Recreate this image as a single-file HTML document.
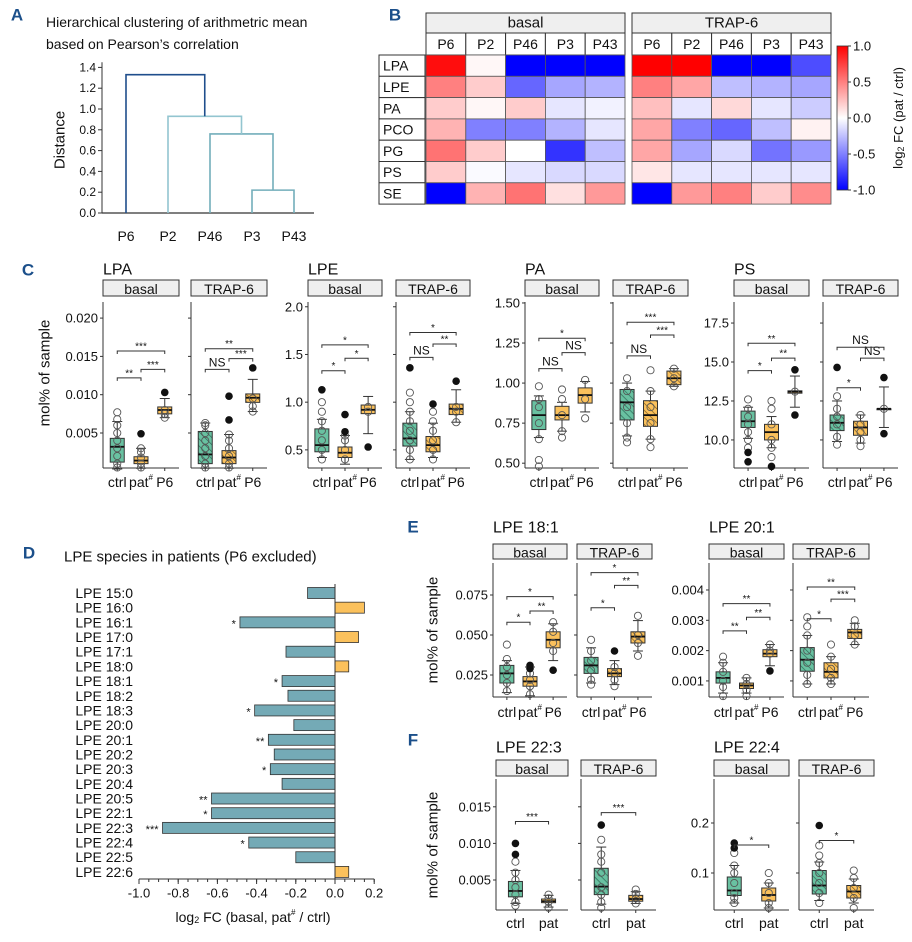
<!DOCTYPE html>
<html><head><meta charset="utf-8">
<style>
html,body{margin:0;padding:0;background:#fff;}
svg{display:block;font-family:"Liberation Sans",Arial,sans-serif;}
text{fill:#111;}
</style></head>
<body>
<svg id="fig" width="912" height="942" viewBox="0 0 912 942" xmlns="http://www.w3.org/2000/svg">
<defs>
<pattern id="hatch-ctrl" patternUnits="userSpaceOnUse" width="5" height="5" patternTransform="rotate(-45)">
<rect width="5" height="5" fill="#69c1a1"/><line x1="0" y1="0" x2="0" y2="5" stroke="#2d6b58" stroke-width="1.4"/></pattern>
<pattern id="hatch-pat" patternUnits="userSpaceOnUse" width="5" height="5" patternTransform="rotate(-45)">
<rect width="5" height="5" fill="#fbc15c"/><line x1="0" y1="0" x2="0" y2="5" stroke="#7a5a1e" stroke-width="1.4"/></pattern>
<linearGradient id="cbar-grad" x1="0" y1="0" x2="0" y2="1">
<stop offset="0" stop-color="#ff0000"/><stop offset="0.5" stop-color="#ffffff"/><stop offset="1" stop-color="#0000ff"/></linearGradient>
</defs>
</svg>
<script>
// ---------- Panel A data ----------
const dendroLeaves=['P6','P2','P46','P3','P43'];
const dendroHeights=[0.22,0.76,0.93,1.33];
const dendroTicks=[0,0.2,0.4,0.6,0.8,1.0,1.2,1.4];
const dendroTickLabels=['0.0','0.2','0.4','0.6','0.8','1.0','1.2','1.4'];
// ---------- Panel B data ----------
const hmRows=['LPA','LPE','PA','PCO','PG','PS','SE'];
const hmCols=['P6','P2','P46','P3','P43'];
const hmBasal=[[0.95,0.03,-1,-1,-1],[0.5,0.2,-0.6,-0.35,-0.3],[0.2,0.03,0.2,-0.1,-0.05],[0.3,-0.5,-0.5,-0.3,-0.1],[0.55,0.2,0.0,-0.8,-0.25],[0.2,-0.02,-0.1,-0.15,-0.15],[-1,0.3,0.55,0.12,0.4]];
const hmTrap=[[1,1,-1,-1,-0.7],[0.5,0.35,-0.25,-0.3,-0.35],[0.25,-0.1,0.15,-0.1,-0.2],[0.35,-0.5,-0.6,-0.25,0.05],[0.35,-0.35,-0.15,-0.55,-0.4],[0.1,-0.1,-0.1,-0.1,-0.1],[-1,0.4,0.5,0.2,0.45]];
const cbarTicks=[1,0.5,0,-0.5,-1];
const cbarTickLabels=['1.0','0.5','0.0','-0.5','-1.0'];
// ---------- Panel D data ----------
const lpeSpecies=['LPE 15:0','LPE 16:0','LPE 16:1','LPE 17:0','LPE 17:1','LPE 18:0','LPE 18:1','LPE 18:2','LPE 18:3','LPE 20:0','LPE 20:1','LPE 20:2','LPE 20:3','LPE 20:4','LPE 20:5','LPE 22:1','LPE 22:3','LPE 22:4','LPE 22:5','LPE 22:6'];
const lpeFC=[-0.14,0.15,-0.485,0.12,-0.25,0.07,-0.27,-0.24,-0.41,-0.21,-0.34,-0.31,-0.33,-0.27,-0.63,-0.63,-0.88,-0.44,-0.2,0.07];
const lpeSig=['','','*','','','','*','','*','','**','','*','','**','*','***','*','',''];
const dTicks=[-1.0,-0.8,-0.6,-0.4,-0.2,0.0,0.2];
const dTickLabels=['-1.0','-0.8','-0.6','-0.4','-0.2','0.0','0.2'];
// ---------- Box plot data: [lo,q1,median,q3,hi] ----------
const lpaTicks=[0.005,0.010,0.015,0.020];
const lpaTickLabels=['0.005','0.010','0.015','0.020'];
const lpaBasal=[[0.0003,0.0012,0.0032,0.0043,0.0065],[0.0004,0.0010,0.0014,0.0019,0.0030],[0.0070,0.0075,0.0080,0.0084,0.0095]];
const lpaBasalPts=[[0.0005,0.001,0.002,0.003,0.004,0.005,0.006,0.0068,0.0077],[0.0005,0.001,0.0018,0.0025,0.003],[0.0070,0.0075,0.0080]];
const lpaBasalOut=[[],[0.0049],[0.0103]];
const lpaBasalSig=[[0,1,0.0122,'**'],[1,2,0.0133,'***'],[0,2,0.0157,'***']];
const lpaTrap=[[0.0004,0.0010,0.0022,0.0052,0.0063],[0.0004,0.0010,0.0018,0.0027,0.0048],[0.0078,0.0090,0.0096,0.0101,0.0120]];
const lpaTrapPts=[[0.0005,0.001,0.002,0.003,0.004,0.005,0.006,0.0063],[0.0005,0.001,0.002,0.003,0.004,0.0048],[0.0078,0.0085,0.0095]];
const lpaTrapOut=[[],[0.0067,0.0098],[0.0135]];
const lpaTrapSig=[[0,1,0.0133,'NS'],[1,2,0.0147,'***'],[0,2,0.0160,'**']];

const lpeTicks=[0.5,1.0,1.5,2.0];
const lpeTickLabels=['0.5','1.0','1.5','2.0'];
const lpeBasal=[[0.42,0.48,0.55,0.72,0.82],[0.35,0.42,0.47,0.53,0.65],[0.67,0.88,0.92,0.97,1.06]];
const lpeBasalPts=[[0.3,0.4,0.5,0.6,0.7,0.8,0.9,1.0],[0.3,0.4,0.5,0.6,0.65],[0.9,0.95]];
const lpeBasalOut=[[1.13],[0.69,0.87],[0.53]];
const lpeBasalSig=[[0,1,1.33,'*'],[1,2,1.46,'*'],[0,2,1.60,'*']];
const lpeTrap=[[0.40,0.54,0.62,0.78,0.90],[0.42,0.48,0.55,0.64,0.78],[0.79,0.87,0.93,0.98,1.13]];
const lpeTrapPts=[[0.4,0.5,0.6,0.7,0.8,0.9,1.0,1.1],[0.4,0.5,0.6,0.7,0.8,0.9],[0.79,0.9,0.95]];
const lpeTrapOut=[[1.36],[0.98],[1.22]];
const lpeTrapSig=[[0,1,1.47,'NS'],[1,2,1.61,'**'],[0,2,1.73,'*']];

const paTicks=[0.50,0.75,1.00,1.25,1.50];
const paTickLabels=['0.50','0.75','1.00','1.25','1.50'];
const paBasal=[[0.66,0.71,0.80,0.89,0.92],[0.70,0.77,0.80,0.855,0.88],[0.82,0.875,0.925,0.97,1.01]];
const paBasalPts=[[0.48,0.52,0.65,0.75,0.85,0.9,0.98],[0.66,0.7,0.8,0.9,0.96],[0.78,0.9,1.02]];
const paBasalOut=[[],[],[]];
const paBasalSig=[[0,1,1.09,'NS'],[1,2,1.19,'NS'],[0,2,1.28,'*']];
const paTrap=[[0.67,0.77,0.88,0.96,1.00],[0.65,0.73,0.80,0.89,0.95],[0.98,0.99,1.03,1.075,1.09]];
const paTrapPts=[[0.63,0.66,0.75,0.85,0.95,1.03],[0.6,0.65,0.75,0.85,0.95,1.08],[0.98,1.03,1.09]];
const paTrapOut=[[],[],[]];
const paTrapSig=[[0,1,1.17,'NS'],[1,2,1.30,'***'],[0,2,1.38,'***']];

const psTicks=[10.0,12.5,15.0,17.5];
const psTickLabels=['10.0','12.5','15.0','17.5'];
const psBasal=[[10.1,10.8,11.2,11.85,12.1],[9.5,10.0,10.5,11.0,11.5],[12.1,13.0,13.1,13.15,14.1]];
const psBasalPts=[[9.5,10,10.5,11,11.5,12,12.6],[8.9,9.5,10,11,12,12.5],[13.1]];
const psBasalOut=[[8.6,9.2],[8.3],[14.5,11.6]];
const psBasalSig=[[0,1,14.45,'*'],[1,2,15.25,'**'],[0,2,16.2,'**']];
const psTrap=[[9.9,10.6,11.1,11.6,12.5],[9.8,10.3,10.8,11.2,11.6],[10.8,12.0,12.0,12.0,13.4]];
const psTrapPts=[[9.7,10.2,11,11.5,12,12.8],[9.6,10,10.5,11,11.6],[12]];
const psTrapOut=[[14.65],[],[14.0,10.4]];
const psTrapSig=[[0,1,13.35,'*'],[1,2,15.25,'NS'],[0,2,15.95,'NS']];

const e1Ticks=[0.025,0.050,0.075];
const e1TickLabels=['0.025','0.050','0.075'];
const e1Basal=[[0.014,0.020,0.026,0.031,0.034],[0.012,0.018,0.021,0.024,0.030],[0.034,0.042,0.047,0.052,0.057]];
const e1BasalPts=[[0.015,0.02,0.025,0.03,0.035,0.044],[0.013,0.018,0.022,0.026],[0.04,0.045,0.052,0.058]];
const e1BasalOut=[[],[0.029,0.031],[0.028]];
const e1BasalSig=[[0,1,0.058,'*'],[1,2,0.065,'**'],[0,2,0.074,'*']];
const e1Trap=[[0.020,0.026,0.031,0.036,0.042],[0.019,0.024,0.026,0.029,0.034],[0.040,0.045,0.049,0.052,0.059]];
const e1TrapPts=[[0.019,0.022,0.028,0.034,0.04,0.047],[0.018,0.022,0.026,0.03],[0.037,0.045,0.05,0.062]];
const e1TrapOut=[[],[0.040],[]];
const e1TrapSig=[[0,1,0.067,'*'],[1,2,0.081,'**'],[0,2,0.089,'*']];

const e2Ticks=[0.001,0.002,0.003,0.004];
const e2TickLabels=['0.001','0.002','0.003','0.004'];
const e2Basal=[[0.0006,0.00093,0.0011,0.0013,0.0016],[0.0006,0.00075,0.00085,0.00093,0.0011],[0.0015,0.0018,0.0019,0.00203,0.0022]];
const e2BasalPts=[[0.0005,0.0008,0.001,0.0013,0.0016,0.0018],[0.0005,0.0007,0.0009,0.0011],[0.0019,0.002,0.0022]];
const e2BasalOut=[[],[],[0.00133]];
const e2BasalSig=[[0,1,0.00265,'**'],[1,2,0.0031,'**'],[0,2,0.00355,'**']];
const e2Trap=[[0.0009,0.00132,0.0017,0.0021,0.0025],[0.0009,0.0011,0.0013,0.0016,0.0018],[0.0022,0.0024,0.0026,0.0027,0.0029]];
const e2TrapPts=[[0.0009,0.0012,0.0016,0.002,0.0025,0.0028,0.0031],[0.0009,0.0011,0.0014,0.0018,0.0022],[0.0022,0.0025,0.0028,0.003]];
const e2TrapOut=[[],[],[]];
const e2TrapSig=[[0,1,0.00305,'*'],[1,2,0.0037,'***'],[0,2,0.0041,'**']];

const f1Ticks=[0.005,0.010,0.015];
const f1TickLabels=['0.005','0.010','0.015'];
const f1Basal=[[0.0018,0.0027,0.0035,0.0048,0.0063],[0.0013,0.0019,0.0021,0.0024,0.0029]];
const f1BasalPts=[[0.0015,0.002,0.003,0.004,0.005,0.006,0.0075],[0.0012,0.002,0.0025,0.003]];
const f1BasalOut=[[0.0085,0.0100],[]];
const f1BasalSig=[[0,1,0.013,'***']];
const f1Trap=[[0.0017,0.0030,0.0041,0.0066,0.0095],[0.0018,0.0021,0.0024,0.0029,0.0034]];
const f1TrapPts=[[0.0012,0.002,0.003,0.004,0.006,0.0075,0.0085,0.0105],[0.0018,0.0025,0.0031,0.0037]];
const f1TrapOut=[[0.0125],[]];
const f1TrapSig=[[0,1,0.0142,'***']];

const f2Ticks=[0.1,0.2];
const f2TickLabels=['0.1','0.2'];
const f2Basal=[[0.04,0.055,0.065,0.092,0.115],[0.03,0.044,0.056,0.070,0.080]];
const f2BasalPts=[[0.04,0.05,0.06,0.08,0.1,0.115,0.14],[0.03,0.04,0.06,0.08,0.1]];
const f2BasalOut=[[0.15,0.16],[]];
const f2BasalSig=[[0,1,0.156,'*']];
const f2Trap=[[0.045,0.058,0.075,0.105,0.122],[0.04,0.05,0.063,0.075,0.088]];
const f2TrapPts=[[0.04,0.06,0.08,0.1,0.12,0.135,0.155],[0.03,0.05,0.07,0.09,0.105]];
const f2TrapOut=[[0.195],[]];
const f2TrapSig=[[0,1,0.165,'*']];

const groups3=['ctrl','pat#','P6'];
const groups2=['ctrl','pat'];

// ---------- helpers ----------
const NS='http://www.w3.org/2000/svg';
const svg=document.getElementById('fig');
function mk(tag,attrs,parent){const e=document.createElementNS(NS,tag);for(const k in attrs)e.setAttribute(k,attrs[k]);(parent||svg).appendChild(e);return e;}
function txt(x,y,s,size,anchor,parent){const t=mk('text',{x:x,y:y,'font-size':size,'text-anchor':anchor||'start','dominant-baseline':'central'},parent);t.textContent=s;return t;}
function line(x1,y1,x2,y2,stroke,w,parent){return mk('line',{x1:x1,y1:y1,x2:x2,y2:y2,stroke:stroke||'#333','stroke-width':w||1},parent);}

// ---------- panel letters ----------
[['A',17,15],['B',395,15],['C',28,270],['D',29,553],['E',413,527],['F',413,740]].forEach(function(p){
  const t=txt(p[1],p[2],p[0],17,'middle');
  t.setAttribute('font-weight','bold');t.setAttribute('style','fill:#1b4f8a');
  
  
});

// ---------- Panel A ----------
(function(){
  const g=mk('g',{});
  
  
  let t=txt(46,22,'Hierarchical clustering of arithmetric mean',14,'start',g);
  
  
  t=txt(46,44,'based on Pearson’s correlation',14,'start',g);
  
  
  const y0=213,k=104,ax=102;
  const sy=v=>y0-v*k;
  const lx=i=>126+i*42;
  line(ax,sy(1.45),ax,y0,'#333',1,g);
  line(ax,y0,314,y0,'#333',1.2,g);
  dendroTicks.forEach(function(v,i){
    line(ax-4,sy(v),ax,sy(v),'#333',1,g);
    const tl=txt(ax-6,sy(v),dendroTickLabels[i],12,'end',g);
    
    
  });
  const yt=txt(0,0,'Distance',15,'middle',g);
  yt.setAttribute('transform','translate(60,140) rotate(-90)');
  
  
  dendroLeaves.forEach(function(s,i){
    const tl=txt(lx(i),236,s,14,'middle',g);
    
    
  });
  // merges: (3,4)->h0, (2,c0)->h1, (1,c1)->h2, (0,c2)->h3
  const cols=['#73aebb','#73aebb','#93c5d0','#1f4e8c'];
  let rx=(lx(3)+lx(4))/2,ry=sy(dendroHeights[0]);
  function link(xa,ya,xb,yb,h,c){
    const p=mk('path',{d:'M'+xa+','+ya+'V'+sy(h)+'H'+xb+'V'+yb,fill:'none',stroke:c,'stroke-width':1.6},g);
    
    
  }
  link(lx(3),y0,lx(4),y0,dendroHeights[0],cols[0]);
  for(let m=1;m<4;m++){
    const leaf=3-m;
    link(lx(leaf),y0,rx,ry,dendroHeights[m],cols[m]);
    rx=(lx(leaf)+rx)/2;ry=sy(dendroHeights[m]);
  }
})();

// ---------- Panel B ----------
(function(){
  const g=mk('g',{});
  
  
  const top=55,rh=21.3,cw=39.8;
  const color=function(v){v=Math.max(-1,Math.min(1,v));
    if(v>=0){const c=Math.round(255*(1-v));return 'rgb(255,'+c+','+c+')';}
    const c=Math.round(255*(1+v));return 'rgb('+c+','+c+',255)';};
  hmRows.forEach(function(r,i){
    mk('rect',{x:379,y:top+i*rh,width:46,height:rh,fill:'#fff',stroke:'#333','stroke-width':1},g);
    const t=txt(383,top+i*rh+rh/2,r,14,'start',g);
    
    
  });
  [[426,hmBasal,'basal'],[632,hmTrap,'TRAP-6']].forEach(function(f){
    const x0=f[0];
    const s=mk('rect',{x:x0,y:13,width:cw*5,height:20,fill:'#efefef',stroke:'#333'},g);
    
    
    txt(x0+cw*2.5,23,f[2],15,'middle',g);
    hmCols.forEach(function(c,j){
      mk('rect',{x:x0+j*cw,y:33,width:cw,height:22,fill:'#fff',stroke:'#333'},g);
      const t=txt(x0+j*cw+cw/2,44,c,14,'middle',g);
      
      
    });
    f[1].forEach(function(row,i){row.forEach(function(v,j){
      const r=mk('rect',{x:x0+j*cw,y:top+i*rh,width:cw,height:rh,fill:color(v),stroke:'#555','stroke-width':0.8},g);
      
      
    });});
  });
  const cb=mk('rect',{x:837,y:46,width:11,height:144,fill:'url(#cbar-grad)',stroke:'#333','stroke-width':0.8},g);
  
  
  cbarTicks.forEach(function(v,i){
    const y=118-v*72;
    line(848,y,851,y,'#333',1,g);
    const t=txt(853,y,cbarTickLabels[i],13,'start',g);
    
    
  });
  const ct=mk('text',{x:0,y:0,'font-size':13,'text-anchor':'middle','dominant-baseline':'central',transform:'translate(898,118) rotate(-90)'},g);
  ct.innerHTML='log<tspan font-size="9" dy="3">2</tspan><tspan dy="-3"> FC (pat / ctrl)</tspan>';
  
  
})();

// ---------- Panel D ----------
(function(){
  const g=mk('g',{});
  
  
  let t=txt(64,557,'LPE species in patients (P6 excluded)',15,'start',g);
  
  
  const zx=335,k=196,y0=593,rs=14.68,bh=11;
  const sx=v=>zx+v*k;
  lpeSpecies.forEach(function(s,i){
    const y=y0+i*rs,v=lpeFC[i];
    const l=txt(133,y,s,14,'end',g);
    
    
    const b=mk('rect',{x:Math.min(sx(v),zx),y:y-bh/2,width:Math.abs(sx(v)-zx),height:bh,fill:v<0?'#74aab6':'#fbc15c',stroke:'#333','stroke-width':0.8},g);
    
    
    if(lpeSig[i]){
      const st=txt(Math.min(sx(v),zx)-4,y+2,lpeSig[i],11,'end',g);
      
      
    }
  });
  line(zx,y0-9,zx,879,'#333',1,g);
  line(sx(-1),879,sx(0.2),879,'#333',1,g);
  for(let v=-1;v<=0.2001;v+=0.05){line(sx(v),879,sx(v),882,'#333',1,g);}
  dTicks.forEach(function(v,i){
    line(sx(v),879,sx(v),884,'#333',1,g);
    const tl=txt(sx(v),893,dTickLabels[i],13,'middle',g);
    
    
  });
  const xt=mk('text',{x:253,y:917,'font-size':14,'text-anchor':'middle','dominant-baseline':'central'},g);
  xt.innerHTML='log<tspan font-size="9" dy="3">2</tspan><tspan dy="-3"> FC (basal, pat</tspan><tspan font-size="8" dy="-5">#</tspan><tspan dy="5"> / ctrl)</tspan>';
  
  
})();

// ---------- Box plot panels ----------
const boxPanels=[
 {name:'lpa',title:'LPA',tx:103,ty:270,top:302,bot:468,sTop:280,sBot:296,labY:482,ymin:0.00043,ymax:0.0221,ticks:lpaTicks,tl:lpaTickLabels,groups:groups3,
  facets:[[103,179,'basal',lpaBasal,lpaBasalPts,lpaBasalOut,lpaBasalSig],[191,267,'TRAP-6',lpaTrap,lpaTrapPts,lpaTrapOut,lpaTrapSig]]},
 {name:'lpe',title:'LPE',tx:308,ty:270,top:302,bot:468,sTop:280,sBot:296,labY:482,ymin:0.31,ymax:2.05,ticks:lpeTicks,tl:lpeTickLabels,groups:groups3,
  facets:[[308,382,'basal',lpeBasal,lpeBasalPts,lpeBasalOut,lpeBasalSig],[396,470,'TRAP-6',lpeTrap,lpeTrapPts,lpeTrapOut,lpeTrapSig]]},
 {name:'pa',title:'PA',tx:525,ty:270,top:302,bot:468,sTop:280,sBot:296,labY:482,ymin:0.47,ymax:1.506,ticks:paTicks,tl:paTickLabels,groups:groups3,
  facets:[[525,599,'basal',paBasal,paBasalPts,paBasalOut,paBasalSig],[613,688,'TRAP-6',paTrap,paTrapPts,paTrapOut,paTrapSig]]},
 {name:'ps',title:'PS',tx:734,ty:270,top:302,bot:468,sTop:280,sBot:296,labY:482,ymin:8.2,ymax:18.85,ticks:psTicks,tl:psTickLabels,groups:groups3,
  facets:[[734,809,'basal',psBasal,psBasalPts,psBasalOut,psBasalSig],[823,898,'TRAP-6',psTrap,psTrapPts,psTrapOut,psTrapSig]]},
 {name:'lpe-18-1',title:'LPE 18:1',tx:493,ty:528,top:563,bot:697,sTop:544,sBot:559,labY:712,ymin:0.01125,ymax:0.095,ticks:e1Ticks,tl:e1TickLabels,groups:groups3,
  facets:[[493,567,'basal',e1Basal,e1BasalPts,e1BasalOut,e1BasalSig],[577,652,'TRAP-6',e1Trap,e1TrapPts,e1TrapOut,e1TrapSig]]},
 {name:'lpe-20-1',title:'LPE 20:1',tx:709,ty:528,top:563,bot:697,sTop:544,sBot:559,labY:712,ymin:0.00047,ymax:0.00489,ticks:e2Ticks,tl:e2TickLabels,groups:groups3,
  facets:[[709,784,'basal',e2Basal,e2BasalPts,e2BasalOut,e2BasalSig],[793,869,'TRAP-6',e2Trap,e2TrapPts,e2TrapOut,e2TrapSig]]},
 {name:'lpe-22-3',title:'LPE 22:3',tx:496,ty:748,top:779,bot:910,sTop:760,sBot:776,labY:923,ymin:0.0009,ymax:0.0188,ticks:f1Ticks,tl:f1TickLabels,groups:groups2,
  facets:[[496,568,'basal',f1Basal,f1BasalPts,f1BasalOut,f1BasalSig],[581,656,'TRAP-6',f1Trap,f1TrapPts,f1TrapOut,f1TrapSig]]},
 {name:'lpe-22-4',title:'LPE 22:4',tx:714,ty:748,top:779,bot:910,sTop:760,sBot:776,labY:923,ymin:0.026,ymax:0.288,ticks:f2Ticks,tl:f2TickLabels,groups:groups2,
  facets:[[714,789,'basal',f2Basal,f2BasalPts,f2BasalOut,f2BasalSig],[799,874,'TRAP-6',f2Trap,f2TrapPts,f2TrapOut,f2TrapSig]]}
];

boxPanels.forEach(function(P){
  const g=mk('g',{});
  
  
  const sy=v=>P.bot-(v-P.ymin)/(P.ymax-P.ymin)*(P.bot-P.top);
  const tt=txt(P.tx,P.ty,P.title,16,'start',g);
  
  
  const fr=P.groups.length===3?[0.1875,0.5,0.8125]:[0.27,0.73];
  P.facets.forEach(function(F,fi){
    const x0=F[0],x1=F[1],w=x1-x0;
    const s=mk('rect',{x:x0,y:P.sTop,width:w,height:P.sBot-P.sTop,fill:'#efefef',stroke:'#333','stroke-width':1},g);
    
    
    txt(x0+w/2,(P.sTop+P.sBot)/2+1,F[2],14,'middle',g);
    line(x0,P.top,x0,P.bot,'#333',1,g);
    line(x0,P.bot,x1,P.bot,'#333',1,g);
    P.ticks.forEach(function(v,i){
      line(x0-3,sy(v),x0,sy(v),'#333',1,g);
      if(fi===0){
        const tl=txt(x0-5,sy(v),P.tl[i],13,'end',g);
        
        
      }
    });
    const gx=fr.map(f=>x0+w*f);
    P.groups.forEach(function(gn,gi){
      line(gx[gi],P.bot,gx[gi],P.bot+3,'#333',1,g);
      const lab=mk('text',{x:gx[gi],y:P.labY,'font-size':14,'text-anchor':'middle','dominant-baseline':'central'},g);
      if(gn==='pat#'){lab.innerHTML='pat<tspan font-size="8" dy="-5">#</tspan>';}else{lab.textContent=gn;}
      
      
      const st=F[3][gi];
      const cx=gx[gi],bw=14;
      const fill=fi===0?(gi===0?'#69c1a1':'#fbc15c'):(gi===0?'url(#hatch-ctrl)':'url(#hatch-pat)');
      line(cx,sy(st[0]),cx,sy(st[4]),'#333',1,g);
      line(cx-5,sy(st[0]),cx+5,sy(st[0]),'#333',1,g);
      line(cx-5,sy(st[4]),cx+5,sy(st[4]),'#333',1,g);
      const b=mk('rect',{x:cx-bw/2,y:sy(st[3]),width:bw,height:Math.max(1,sy(st[1])-sy(st[3])),fill:fill,stroke:'#333','stroke-width':1},g);
      
      
      line(cx-bw/2,sy(st[2]),cx+bw/2,sy(st[2]),'#111',1.8,g);
      F[4][gi].forEach(function(v){
        if(v<P.ymin||v>P.ymax)return;
        const c=mk('circle',{cx:cx,cy:sy(v),r:3.6,fill:'none',stroke:'#555','stroke-width':0.9},g);
        
        
      });
      F[5][gi].forEach(function(v){
        if(v<P.ymin||v>P.ymax)return;
        const c=mk('circle',{cx:cx,cy:sy(v),r:3.8,fill:'#111'},g);
        
        
      });
    });
    F[6].forEach(function(sg){
      const y=sy(sg[2]),xa=gx[sg[0]],xb=gx[sg[1]];
      const p=mk('path',{d:'M'+xa+','+(y+3)+'V'+y+'H'+xb+'V'+(y+3),fill:'none',stroke:'#333','stroke-width':1},g);
      
      
      const lt=txt((xa+xb)/2,sg[3]==='NS'?y-7:y-4,sg[3],sg[3]==='NS'?12:10,'middle',g);
      
      
    });
  });
});

// y axis titles for box panels
[[45,373],[433,630],[433,845]].forEach(function(p){
  const t=txt(0,0,'mol% of sample',15,'middle');
  t.setAttribute('transform','translate('+p[0]+','+p[1]+') rotate(-90)');
  
  
});
</script>
</body></html>
